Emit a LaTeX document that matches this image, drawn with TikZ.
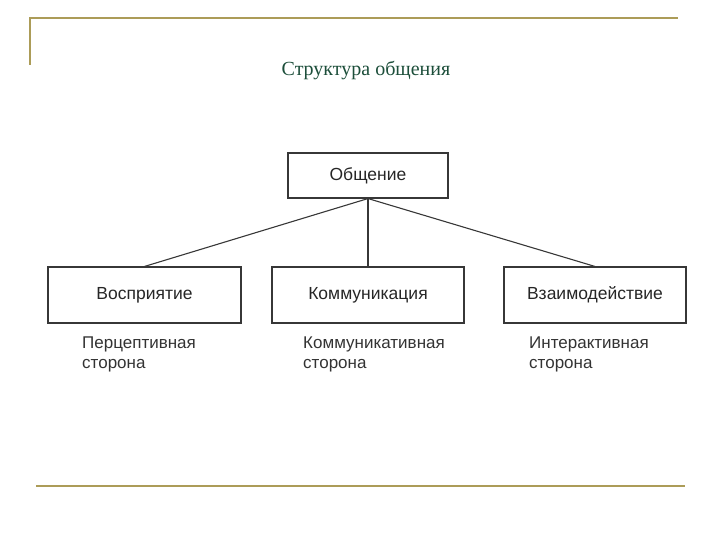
\documentclass[tikz,border=0pt]{standalone}
\usepackage{fontspec}
\setmainfont{Liberation Sans}
\newfontfamily\titlefont{Liberation Serif}
\definecolor{goldline}{RGB}{172,156,88}
\definecolor{titlegreen}{RGB}{28,78,58}
\definecolor{boxgray}{RGB}{55,55,55}
\tikzset{
    box/.style={draw=boxgray, line width=1.1pt, minimum height=56pt, inner sep=0pt, font=\fontsize{17.5}{20}\selectfont, text=black!85},
    side/.style={anchor=north west, align=left, inner sep=0pt, font=\fontsize{17}{19.5}\selectfont, text=black!80},
    rule/.style={draw=goldline, line width=2pt}
}
\begin{document}
\begin{tikzpicture}[x=1pt, y=-1pt]
    \useasboundingbox (0,0) rectangle (720,540) ;
    % frame lines
    \draw [rule] (30,65) -- (30,18) -- (678,18) ;
    \draw [rule] (36,486) -- (685,486) ;
    \node (title) at (366,71) {\titlefont\fontsize{20}{24}\selectfont\color{titlegreen}Структура общения} ;

    \node [box, minimum width=160pt, minimum height=45pt] (obsh) at (368,175.5) {Общение} ;
    \node [box, minimum width=193pt] (vospr) at (144.5,295) {Восприятие} ;
    \node [box, minimum width=192pt] (komm) at (368,295) {Коммуникация} ;
    \node [box, minimum width=182pt] (vzaim) at (595,295) {Взаимодействие} ;

    \coordinate (root) at (obsh.south) ;
    \draw [boxgray, line width=1.1pt] (root) -- (vospr.north) ;
    \draw [boxgray, line width=1.1pt] (root) -- (komm.north) ;
    \draw [boxgray, line width=1.1pt] (root) -- (vzaim.north) ;

    \node [side] (perc) at (82,337) {Перцептивная\\сторона} ;
    \node [side] (kstor) at (303,337) {Коммуникативная\\сторона} ;
    \node [side] (inter) at (529,337) {Интерактивная\\сторона} ;
\end{tikzpicture}
\end{document}
